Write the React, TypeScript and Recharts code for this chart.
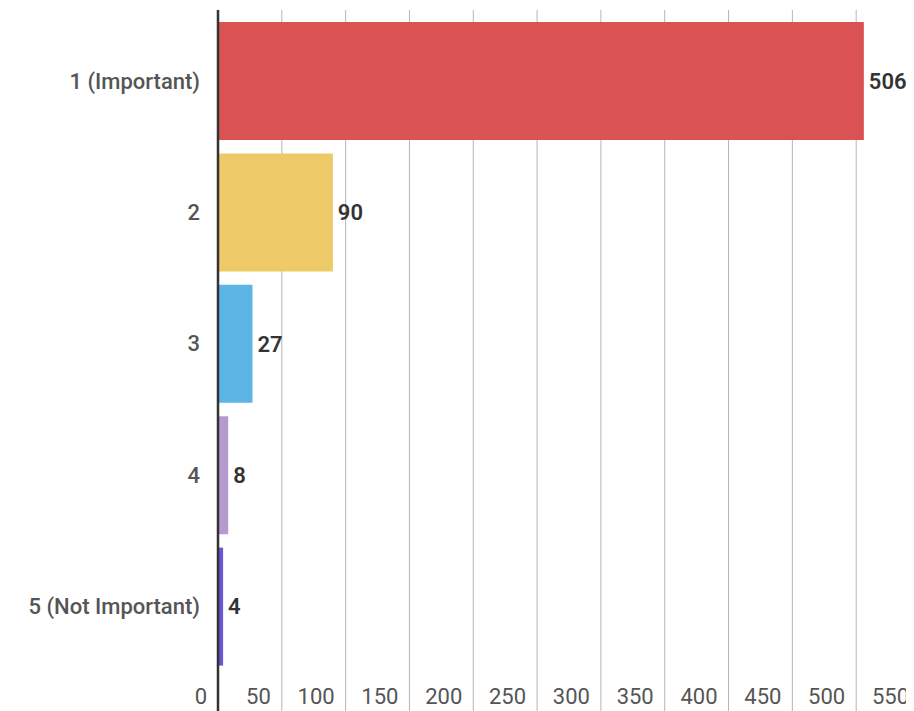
import { BarChart, Bar, XAxis, YAxis, CartesianGrid, Cell, LabelList } from 'recharts'

const categories = ['1 (Important)', '2', '3', '4', '5 (Not Important)']
const counts = [506, 90, 27, 8, 4]
const barColors = ['#db5253', '#edc967', '#5db5e6', '#b39bd0', '#6b56d6']
const xTicks = [0, 50, 100, 150, 200, 250, 300, 350, 400, 450, 500, 550]

const data = categories.map((name, i) => ({ name, value: counts[i] }))

const FONT = 'Roboto, "Open Sans", sans-serif'

// tick labels sit inside the plot, just left of each gridline
function XTick(props: any) {
  const { x, y, payload } = props
  return (
    <text x={x - 11} y={y - 32} textAnchor="end" fill="#555" fontSize={22} fontFamily={FONT}>
      {payload.value}
    </text>
  )
}

export default function App() {
  return (
    <div style={{ width: 906, height: 703, overflow: 'hidden', background: '#fff' }}>
      <BarChart
        width={912}
        height={750}
        data={data}
        layout="vertical"
        margin={{ top: 2, right: 0, left: 0, bottom: 0 }}
      >
        <CartesianGrid horizontal={false} stroke="#b5b5b5" />
        <XAxis
          type="number"
          domain={[0, 550]}
          ticks={xTicks}
          height={30}
          axisLine={false}
          tickLine={false}
          tick={<XTick />}
          interval={0}
        />
        <YAxis
          type="category"
          dataKey="name"
          width={210}
          axisLine={{ stroke: '#333', strokeWidth: 2.5 }}
          tickLine={false}
          tickMargin={12}
          padding={{ top: 5, bottom: 56 }}
          tick={{ fill: '#555', fontSize: 22, fontWeight: 500, fontFamily: FONT }}
        />
        <Bar dataKey="value" barSize={118} isAnimationActive={false}>
          {data.map((entry, index) => (
            <Cell key={`cell-${index}`} fill={barColors[index]} />
          ))}
          <LabelList
            dataKey="value"
            position="right"
            offset={5}
            fill="#333"
            fontSize={22}
            fontWeight={600}
            fontFamily={FONT}
          />
        </Bar>
      </BarChart>
    </div>
  )
}
